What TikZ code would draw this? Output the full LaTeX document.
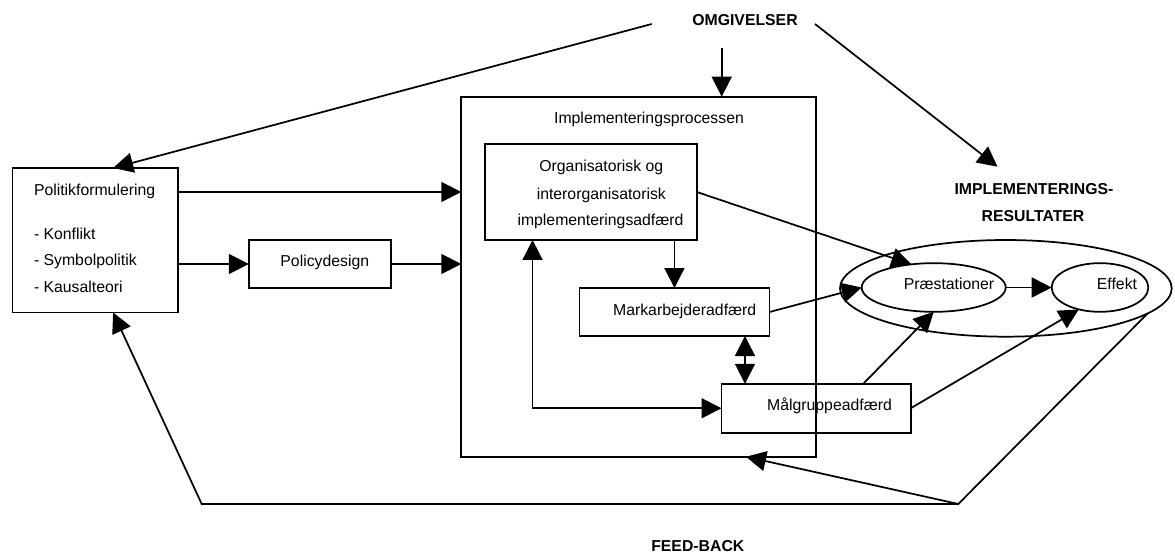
\documentclass[tikz,border=0pt]{standalone}
\usepackage{fontspec}
\setmainfont{Liberation Sans}
\usetikzlibrary{arrows.meta,calc,fit,shapes.geometric}
\begin{document}
\begin{tikzpicture}[x=0.75pt,y=-0.75pt,
  line width=1.3pt,
  font=\fontsize{11.85pt}{14pt}\selectfont,
  box/.style={draw, rectangle, inner sep=0pt, outer sep=0pt},
  oval/.style={draw, ellipse, inner sep=0pt, outer sep=0pt},
  txt/.style={inner sep=0pt, outer sep=0pt, anchor=base},
  ltxt/.style={inner sep=0pt, outer sep=0pt, anchor=base west},
  btxt/.style={inner sep=0pt, outer sep=0pt, anchor=base, font=\fontsize{11.85pt}{14pt}\selectfont\bfseries},
  arr/.style={-{Triangle[length=15pt,width=15pt]}},
  darr/.style={{Triangle[length=15pt,width=15pt]}-{Triangle[length=15pt,width=15pt]}},
]
\useasboundingbox (0,0) rectangle (1175,556);

% boxes
\node[box, fit={(12.5,168) (178.3,312.5)}] (pol) {};
\node[box, fit={(248.8,240) (390.7,288)}] (pd) {};
\node[box, fit={(461.3,96.7) (816,456.7)}] (impl) {};
\node[box, fit={(485,144.3) (697.3,240)}] (org) {};
\node[box, fit={(579.4,288) (769.5,336)}] (mark) {};
\node[box, fit={(721.5,383.8) (910.7,432.7)}] (mal) {};

% ellipses
\node[oval, minimum width=248.8pt, minimum height=72.5pt] (outer) at (1005.85,288.35) {};
\node[oval, minimum width=108pt, minimum height=36.5pt] (praes) at (933.7,287.5) {};
\node[oval, minimum width=72.5pt, minimum height=36.5pt] (eff) at (1100,287.5) {};

% texts
\node[btxt] (omg) at (745,25.7) {OMGIVELSER};
\node[txt] (impltxt) at (649,123.3) {Implementeringsprocessen};
\node[ltxt] (poltxt) at (34,195.5) {Politikformulering};
\node[ltxt] (p1) at (34,239) {- Konflikt};
\node[ltxt] (p2) at (34,265.7) {- Symbolpolitik};
\node[ltxt] (p3) at (34,292.3) {- Kausalteori};
\node[txt] (pdtxt) at (324.8,266.7) {Policydesign};
\node[txt] (o1) at (601.3,171.7) {Organisatorisk og};
\node[txt] (o2) at (601.3,199.3) {interorganisatorisk};
\node[txt] (o3) at (600.5,226) {implementeringsadfærd};
\node[btxt] (res1) at (1034,194.3) {IMPLEMENTERINGS-};
\node[btxt] (res2) at (1033,221.7) {RESULTATER};
\node[txt] (marktxt) at (684.7,315) {Markarbejderadfærd};
\node[txt] (maltxt) at (829.5,410) {Målgruppeadfærd};
\node[txt] (praestxt) at (949,289.3) {Præstationer};
\node[txt] (efftxt) at (1117,289.3) {Effekt};
\node[btxt] (fbtxt) at (697.8,551.7) {FEED-BACK};

% free ends, bends and attachment points
\coordinate (omgL) at (651.7,24);
\coordinate (omgD) at (721.7,48.3);
\coordinate (omgR) at (815,24);
\coordinate (restip) at (997.5,166.7);
\coordinate (fb) at (958.3,504);
\coordinate (fbl) at (201.7,504);
\coordinate (polA) at ($(pol.north east)!0.166!(pol.south east)$);
\coordinate (markD) at ($(mark.south west)!0.871!(mark.south east)$);
\coordinate (orgD) at ($(org.south west)!0.224!(org.south east)$);
\coordinate (malU) at ($(mal.north west)!0.749!(mal.north east)$);
\coordinate (polT) at ($(pol.north west)!0.607!(pol.north east)$);
\coordinate (polB) at ($(pol.south west)!0.607!(pol.south east)$);
\coordinate (implB) at ($(impl.south west)!0.8025!(impl.south east)$);

% connectors
\draw[arr] (omgL) -- (polT);
\draw[arr] (omgD) -- (omgD |- impl.north);
\draw[arr] (omgR) -- (restip);

\draw[arr] (polA) -- (polA -| impl.west);
\draw[arr] (pol.east |- pd.east) -- (pd.west);
\draw[arr] (pd.east) -- (pd.east -| impl.west);

\draw[arr] (org.east) -- (praes.134);
\draw[arr] (org.south -| mark.north) -- (mark.north);
\draw[arr] (mark.east) -- (praes.west);
\draw[darr] (markD) -- (markD |- mal.north);
\draw[darr] (orgD) |- (mal.west);
\draw[arr] (malU) -- (praes.south);
\draw[arr] (mal.east) -- (eff.226);
\draw[arr] (praes.east) -- (eff.west);

\draw[arr] (outer.-10) -- (fb) -- (fbl) -- (polB);
\draw[arr] (fb) -- (implB);
\end{tikzpicture}
\end{document}
